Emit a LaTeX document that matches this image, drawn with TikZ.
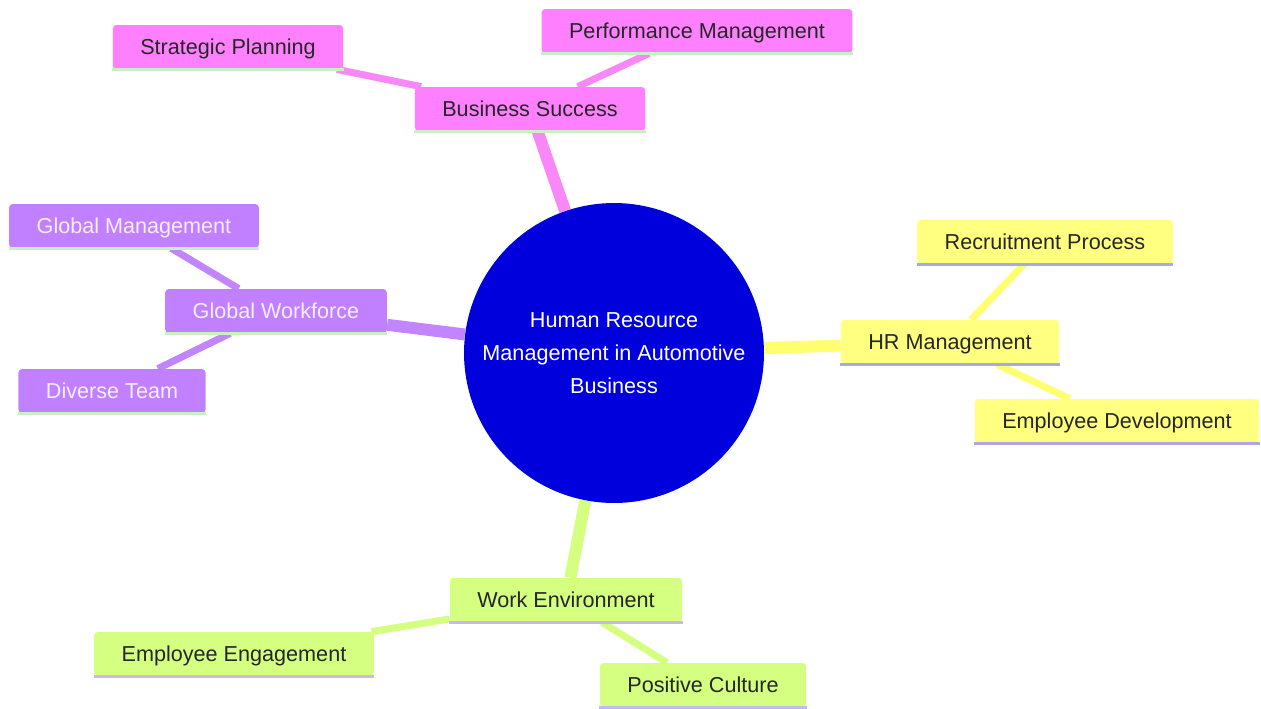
\documentclass[tikz,border=0pt]{standalone}
\usepackage{fontspec}
\setmainfont{Liberation Sans}
\usetikzlibrary{backgrounds}

\definecolor{rootblue}{HTML}{0000DC}
\definecolor{pinkfill}{HTML}{FF80FF}
\definecolor{purplefill}{HTML}{C080FF}
\definecolor{yellowfill}{HTML}{FFFF80}
\definecolor{greenfill}{HTML}{D4FF80}
\definecolor{pinkedge}{HTML}{F888F8}
\definecolor{purpleedge}{HTML}{C285FF}
\definecolor{yellowedge}{HTML}{FFFF70}
\definecolor{greenedge}{HTML}{D4FF80}
\definecolor{mintline}{HTML}{C8F0C0}
\definecolor{blueline}{HTML}{A8A8E6}
\definecolor{lilacline}{HTML}{C8B8F0}
\definecolor{paletext}{HTML}{F6EEFF}

\begin{document}
\begin{tikzpicture}[x=0.02cm, y=-0.02cm,
	main/.style = {rounded corners=2pt, inner xsep=0.55cm, inner ysep=0pt, text height=8.8pt, text depth=0pt, minimum height=0.88cm, text=black!85, font=\fontsize{12.3}{15}\selectfont},
	root/.style = {circle, fill=rootblue, text=white, minimum size=6cm, align=center, font=\fontsize{12.3}{18.7}\selectfont},
	pinkbox/.style = {main, fill=pinkfill},
	purplebox/.style = {main, fill=purplefill, text=paletext},
	yellowbox/.style = {main, fill=yellowfill},
	greenbox/.style = {main, fill=greenfill},
	trunk/.style = {line width=6.8pt},
	twig/.style = {line width=4pt}]
	\useasboundingbox (0,0) rectangle (1261,708);
	\node[root] (0) at (614,353) {Human Resource\\Management in Automotive\\Business};
	\node[pinkbox] (1) at (530,109) {Business Success};
	\node[pinkbox] (2) at (228,47) {Strategic Planning};
	\node[pinkbox] (3) at (697,31) {Performance Management};
	\node[purplebox] (4) at (276,311) {Global Workforce};
	\node[purplebox] (5) at (134,226) {Global Management};
	\node[purplebox] (6) at (112,391) {Diverse Team};
	\node[yellowbox] (7) at (950,342) {HR Management};
	\node[yellowbox] (8) at (1045,242) {Recruitment Process};
	\node[yellowbox] (9) at (1117,421) {Employee Development};
	\node[greenbox] (10) at (566,600) {Work Environment};
	\node[greenbox] (11) at (234,654) {Employee Engagement};
	\node[greenbox] (12) at (703,685) {Positive Culture};
	\begin{scope}[on background layer]
	\path[draw,trunk]
	(0) edge[pinkedge] (1)
	(0) edge[purpleedge] (4)
	(0) edge[yellowedge] (7)
	(0) edge[greenedge] (10);
	\path[draw,twig]
	(1) edge[pinkedge] (2)
	(1) edge[pinkedge] (3)
	(4) edge[purpleedge] (5)
	(4) edge[purpleedge] (6)
	(7) edge[yellowedge] (8)
	(7) edge[yellowedge] (9)
	(10) edge[greenedge] (11)
	(10) edge[greenedge] (12);
	\end{scope}
	% bottom lines of the boxes
	\foreach \n/\c in {1/mintline,2/mintline,3/mintline,4/mintline,5/mintline,6/mintline,7/blueline,8/blueline,9/blueline,10/lilacline,11/lilacline,12/lilacline}
	\draw[\c, line width=1.6pt] (\n.south west) -- (\n.south east);
\end{tikzpicture}
\end{document}
